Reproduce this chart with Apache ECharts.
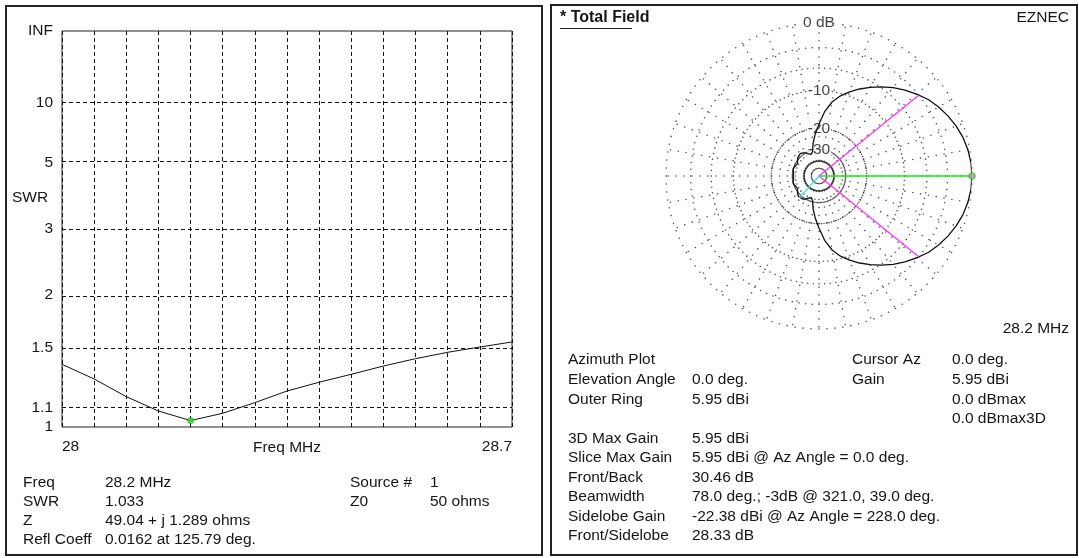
<!DOCTYPE html>
<html><head><meta charset="utf-8">
<script src="https://cdn.jsdelivr.net/npm/echarts@6/dist/echarts.min.js"></script>
<style>html,body{margin:0;padding:0;background:#fff}#c{width:1079px;height:558px}</style>
</head><body><div id="c"></div>
<script>
// ---------- SWR sweep (left) ----------
const freqMHz = [28.00,28.05,28.10,28.15,28.20,28.25,28.30,28.35,28.40,28.45,28.50,28.55,28.60,28.65,28.70];
const swrValues = [1.376,1.276,1.166,1.084,1.033,1.072,1.131,1.200,1.255,1.307,1.364,1.417,1.465,1.506,1.547];
const swrTickLabels = ['1','1.1','1.5','2','3','5','10','INF'];
const swrTickSwr = [1,1.1,1.5,2,3,5,10,Infinity];
const swrGridSwr = [1.1,1.5,2,3,5,10];
const freqMin = 28, freqMax = 28.7, freqStep = 0.05;
const cursorFreq = 28.2, cursorSwr = 1.033;

// ---------- Azimuth pattern (right), dB relative to max ----------
const azAngles = [0,5,10,15,20,25,30,35,40,45,50,55,60,65,70,75,80,85,90,95,100,105,110,115,120,125,130,135,140,145,150,155,160,165,170,175,
  180,185,190,195,200,205,210,215,220,225,230,235,240,245,250,255,260,265,270,275,280,285,290,295,300,305,310,315,320,325,330,335,340,345,350,355];
const azRelDb = [0,-0.05,-0.2,-0.45,-0.8,-1.25,-1.75,-2.35,-3.15,-3.95,-4.85,-5.85,-6.9,-8.0,-9.2,-10.5,-12.2,-14.8,-18.5,-22,-26,-31,-32.5,-31.5,-30,-29,-28.4,-28.5,-29.2,-30.3,-31.2,-31,-30.3,-29.9,-30.3,-30.8,
  -30.46,-30.8,-30.3,-29.9,-30.3,-31,-31.2,-30.3,-29.2,-28.5,-28.4,-29,-30,-31.5,-32.5,-31,-26,-22,-18.5,-14.8,-12.2,-10.5,-9.2,-8.0,-6.9,-5.85,-4.85,-3.95,-3.15,-2.35,-1.75,-1.25,-0.8,-0.45,-0.2,-0.05];
const ringDb = [0,-3,-6,-10,-20,-30,-40];
const ringLabelDb = [0,-10,-20,-30];
const ringLabelText = ['0 dB','-10','-20','-30'];
const spokeStepDeg = 10;
const cursorAz = 0;
const beamEdgeAngles = [39,321], beamEdgeDb = -3;
const sidelobeAngle = 228, sidelobeRelDb = -28.33;

// ---------- Text blocks ----------
const leftInfoLabels = ['Freq','SWR','Z','Refl Coeff'];
const leftInfoValues = ['28.2 MHz','1.033','49.04 + j 1.289 ohms','0.0162 at 125.79 deg.'];
const leftInfo2Labels = ['Source #','Z0'];
const leftInfo2Values = ['1','50 ohms'];
const rightInfoLabels = ['Azimuth Plot','Elevation Angle','Outer Ring','','3D Max Gain','Slice Max Gain','Front/Back','Beamwidth','Sidelobe Gain','Front/Sidelobe'];
const rightInfoValues = ['','0.0 deg.','5.95 dBi','','5.95 dBi','5.95 dBi @ Az Angle = 0.0 deg.','30.46 dB','78.0 deg.; -3dB @ 321.0, 39.0 deg.','-22.38 dBi @ Az Angle = 228.0 deg.','28.33 dB'];
const rightInfo2Labels = ['Cursor Az','Gain','',''];
const rightInfo2Values = ['0.0 deg.','5.95 dBi','0.0 dBmax','0.0 dBmax3D'];

const FONT = 'Liberation Sans';
const FS = 15.5;
const TXT = '#151515';

const rho = s => (s === Infinity ? 1 : (s - 1) / (s + 1));
const arrl = db => Math.pow(0.89, -db / 2);

// grid dots for polar
const dots = [];
ringDb.forEach(db => { for (let a = 0; a < 360; a += 3) dots.push([arrl(db), a]); });
for (let a = 0; a < 360; a += spokeStepDeg) {
  for (let r = 0.05; r < 0.99; r += 0.052) dots.push([r, a]);
}

const patternData = azAngles.map((a, i) => [arrl(azRelDb[i]), a]);
patternData.push([arrl(azRelDb[0]), 360]);

const graphic = [];
graphic.push({type:'rect', shape:{x:6,y:6,width:536,height:549}, style:{fill:'none', stroke:'#222', lineWidth:2}, z:100});
graphic.push({type:'rect', shape:{x:551,y:5,width:526,height:550}, style:{fill:'none', stroke:'#222', lineWidth:2}, z:100});
function txt(t, x, y, opts) {
  graphic.push(Object.assign({type:'text', x:x, y:y + 1.5, z:100, style:Object.assign({text:t, fontFamily:FONT, fontSize:FS, fill:TXT, verticalAlign:'middle', align:'left'}, opts||{})}));
}
txt('SWR', 12, 196);
txt('Freq MHz', 287, 446, {align:'center'});
const lRows = [481, 500, 519, 538];
leftInfoLabels.forEach((t,i)=>{ txt(t, 23, lRows[i]); txt(leftInfoValues[i], 105, lRows[i]); });
leftInfo2Labels.forEach((t,i)=>{ txt(t, 350, lRows[i]); txt(leftInfo2Values[i], 430, lRows[i]); });
const rRows = [358, 378, 398, 417, 437, 456, 476, 495, 515, 534];
rightInfoLabels.forEach((t,i)=>{ if (t) txt(t, 568, rRows[i]); if (rightInfoValues[i]) txt(rightInfoValues[i], 692, rRows[i]); });
rightInfo2Labels.forEach((t,i)=>{ if (t) txt(t, 852, rRows[i]); txt(rightInfo2Values[i], 952, rRows[i]); });
txt('* Total Field', 560, 16, {fontWeight:'bold', fontSize:16});
graphic.push({type:'line', shape:{x1:560,y1:28.5,x2:632,y2:28.5}, style:{stroke:'#222', lineWidth:1}, z:100});
txt('EZNEC', 1069, 16, {align:'right'});
txt('28.2 MHz', 1069, 327, {align:'right'});

const near = (a,b) => Math.abs(a-b) < 1e-6;

const option = {
  animation: false,
  backgroundColor: '#fff',
  textStyle: {fontFamily: FONT},
  grid: {left:62, top:31, width:450, height:396, show:true, borderColor:'#222', borderWidth:1, backgroundColor:'transparent'},
  xAxis: {
    type:'value', min:freqMin, max:freqMax, interval:freqStep,
    axisLine:{show:false}, axisTick:{show:false},
    splitLine:{show:true, lineStyle:{color:'#111', type:[4,3], width:1}},
    axisLabel:{show:true, margin:12, fontSize:FS, color:TXT, fontFamily:FONT,
      alignMinLabel:'left', alignMaxLabel:'right', showMinLabel:true, showMaxLabel:true,
      formatter: v => (near(v, freqMin) || near(v, freqMax)) ? String(+v.toFixed(2)) : ''}
  },
  yAxis: {
    type:'value', min:0, max:1,
    axisLine:{show:false}, axisTick:{show:false}, splitLine:{show:false},
    axisLabel:{show:true, margin:9, fontSize:FS, color:TXT, fontFamily:FONT,
      customValues: swrTickSwr.map(rho),
      formatter: v => { const i = swrTickSwr.findIndex(s => Math.abs(rho(s) - v) < 1e-6); return i >= 0 ? swrTickLabels[i] : ''; }}
  },
  polar: {center:[819,176], radius:153},
  angleAxis: {type:'value', min:0, max:360, startAngle:0, clockwise:false,
    axisLine:{show:false}, axisTick:{show:false}, axisLabel:{show:false}, splitLine:{show:false}},
  radiusAxis: {type:'value', min:0, max:1,
    axisLine:{show:false}, axisTick:{show:false}, axisLabel:{show:false}, splitLine:{show:false}},
  series: [
    {type:'line', xAxisIndex:0, yAxisIndex:0, data: freqMHz.map((f,i)=>[f, rho(swrValues[i])]),
      showSymbol:false, lineStyle:{color:'#111', width:1}, z:5,
      markLine:{silent:true, symbol:['none','none'], label:{show:false}, animation:false,
        lineStyle:{color:'#111', type:[4,3], width:1},
        data: swrGridSwr.map(s => ({yAxis: rho(s)}))}},
    {type:'scatter', xAxisIndex:0, yAxisIndex:0, data:[[cursorFreq, rho(cursorSwr)]],
      symbol:'circle', symbolSize:6, itemStyle:{color:'#33dd33', borderColor:'#22aa22', borderWidth:1}, z:6},
    {type:'scatter', coordinateSystem:'polar', data:dots, symbol:'circle', symbolSize:1.6,
      itemStyle:{color:'#262626'}, silent:true, z:1},
    {type:'scatter', coordinateSystem:'polar', z:3, symbolSize:0, silent:true,
      data: ringLabelDb.map((d,i)=>({value:[arrl(d), 90], name:ringLabelText[i]})),
      label:{show:true, position:'inside', formatter: p => p.name, fontSize:FS, color:TXT, fontFamily:FONT,
        backgroundColor:'#fff', padding:[0,1]}},
    {type:'line', coordinateSystem:'polar', data:patternData, showSymbol:false, smooth:false,
      lineStyle:{color:'#111', width:1.3}, z:4},
    ...beamEdgeAngles.map(a => ({type:'line', coordinateSystem:'polar', data:[[0,a],[arrl(beamEdgeDb),a]],
      showSymbol:false, lineStyle:{color:'#ff33ff', width:1.3}, z:5})),
    {type:'line', coordinateSystem:'polar', data:[[0,sidelobeAngle],[arrl(sidelobeRelDb),sidelobeAngle]],
      showSymbol:false, lineStyle:{color:'#33ddee', width:1.3}, z:5},
    {type:'line', coordinateSystem:'polar', data:[[0,cursorAz],[arrl(azRelDb[0]),cursorAz]],
      showSymbol:false, lineStyle:{color:'#11ee11', width:1.5}, z:6},
    {type:'scatter', coordinateSystem:'polar', data:[[arrl(azRelDb[0]),cursorAz]], symbol:'circle', symbolSize:6,
      itemStyle:{color:'#ee77ee', borderColor:'#22cc22', borderWidth:1.5}, z:7}
  ],
  graphic: graphic
};
const chart = echarts.init(document.getElementById('c'), null, {renderer:'canvas'});
chart.setOption(option);
</script></body></html>
